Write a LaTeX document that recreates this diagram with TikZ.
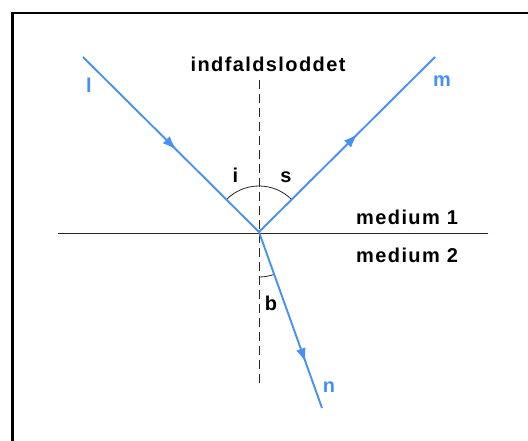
\documentclass[tikz,border=0pt]{standalone}
\usepackage{fontspec}
\setmainfont{Liberation Sans}[LetterSpace=7]
\usetikzlibrary{arrows.meta,decorations.markings,calc}
\definecolor{ray}{RGB}{70,145,245}
\definecolor{ink}{RGB}{45,35,35}
\begin{document}
\begin{tikzpicture}[x=1pt,y=-1pt,
  rayline/.style={draw=ray, line width=1.9pt},
  midarrow/.style={postaction={decorate},
    decoration={markings,mark=at position #1 with {\arrow[ray]{Latex[length=14pt,width=10pt]}}}},
  lbl/.style={font=\fontsize{20}{20}\selectfont\bfseries, inner sep=0pt, anchor=base},
  blbl/.style={lbl, text=ray},
  arcline/.style={draw=ink, line width=0.8pt}]
\useasboundingbox (0,0) rectangle (528,441);
% frame
\draw[line width=2.5pt] (12.5,441) -- (12.5,13) -- (528,13);
% points
\coordinate (O) at (259,232);
\coordinate (L) at (83,57);
\coordinate (M) at (435,57);
\coordinate (N) at (322,408);
\coordinate (NT) at (259,80);
\coordinate (NB) at (259,385);
\coordinate (HL) at (58,233);
\coordinate (HR) at (488,233);
% lines
\draw[draw=ink, line width=0.9pt] (HL) -- (HR);
\draw[draw=ink, line width=0.9pt, dash pattern=on 9pt off 5pt] (NT) -- (NB);
% angle arcs
\draw[arcline] ($(O)+(225:46)$) arc[start angle=225, end angle=315, radius=46];
\path (O) ++(0,45) coordinate (B1);
\draw[arcline] (B1) arc[start angle=90, end angle=70.3, radius=45];
% rays
\draw[rayline, midarrow=0.53] (L) -- (O);
\draw[rayline, midarrow=0.56] (O) -- (M);
\draw[rayline, midarrow=0.74] (O) -- (N);
% labels
\node[lbl] (tnormal) at (268,72) {indfaldsloddet};
\node[lbl, anchor=base west] (tm1) at (356,225) {medium 1};
\node[lbl, anchor=base west] (tm2) at (356,262) {medium 2};
\node[lbl] (ti) at (235.5,183) {i};
\node[lbl] (ts) at (286,183) {s};
\node[lbl] (tb) at (271,310) {b};
\node[blbl] (tl) at (89,93) {l};
\node[blbl] (tmm) at (442,87) {m};
\node[blbl] (tn) at (329,392) {n};
\end{tikzpicture}
\end{document}
